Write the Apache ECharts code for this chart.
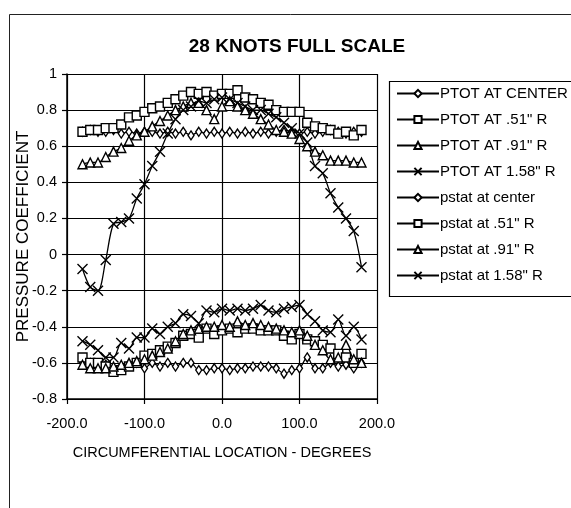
<!DOCTYPE html>
<html>
<head>
<meta charset="utf-8">
<script src="https://cdn.jsdelivr.net/npm/echarts@6/dist/echarts.min.js"></script>
<style>
  html, body { margin: 0; padding: 0; background: #fff; }
  #chart { width: 571px; height: 508px; }
</style>
</head>
<body>
<div id="chart"></div>
<script>
// circumferential location, degrees
var angles = [-180, -170, -160, -150, -140, -130, -120, -110, -100, -90, -80, -70, -60, -50, -40, -30, -20, -10,
    0, 10, 20, 30, 40, 50, 60, 70, 80, 90, 100, 110, 120, 130, 140, 150, 160, 170, 180];

// total pressure
var ptotCenter = [0.68, 0.69, 0.68, 0.68, 0.69, 0.67, 0.68, 0.67, 0.68, 0.68, 0.67, 0.68, 0.67, 0.68, 0.66, 0.68, 0.67, 0.68,
    0.67, 0.68, 0.67, 0.68, 0.67, 0.68, 0.67, 0.68, 0.69, 0.68, 0.67, 0.68, 0.67, 0.68, 0.69, 0.68, 0.67, 0.68, 0.68];
var ptot051 = [0.68, 0.69, 0.69, 0.70, 0.70, 0.72, 0.76, 0.77, 0.79, 0.81, 0.82, 0.84, 0.86, 0.88, 0.90, 0.89, 0.90, 0.88,
    0.89, 0.89, 0.91, 0.87, 0.86, 0.84, 0.83, 0.80, 0.79, 0.79, 0.79, 0.73, 0.71, 0.70, 0.69, 0.67, 0.68, 0.66, 0.69];
var ptot091 = [0.50, 0.51, 0.51, 0.54, 0.57, 0.59, 0.63, 0.66, 0.68, 0.71, 0.74, 0.77, 0.80, 0.82, 0.84, 0.84, 0.80, 0.75,
    0.82, 0.85, 0.82, 0.80, 0.78, 0.75, 0.72, 0.69, 0.68, 0.67, 0.64, 0.60, 0.57, 0.55, 0.52, 0.52, 0.52, 0.51, 0.51];
var ptot158 = [-0.08, -0.18, -0.20, -0.03, 0.17, 0.18, 0.20, 0.31, 0.39, 0.49, 0.57, 0.67, 0.75, 0.80, 0.82, 0.85, 0.84, 0.86,
    0.87, 0.86, 0.84, 0.82, 0.80, 0.80, 0.78, 0.76, 0.73, 0.70, 0.67, 0.62, 0.49, 0.45, 0.34, 0.26, 0.20, 0.13, -0.07];

// static pressure
var pstatCenter = [-0.60, -0.60, -0.62, -0.61, -0.63, -0.62, -0.61, -0.60, -0.63, -0.60, -0.62, -0.60, -0.62, -0.60, -0.60, -0.64, -0.64, -0.63,
    -0.63, -0.64, -0.63, -0.63, -0.62, -0.62, -0.62, -0.63, -0.66, -0.64, -0.63, -0.57, -0.63, -0.63, -0.60, -0.62, -0.61, -0.63, -0.60];
var pstat051 = [-0.57, -0.60, -0.60, -0.62, -0.65, -0.64, -0.62, -0.60, -0.56, -0.55, -0.53, -0.51, -0.49, -0.45, -0.44, -0.46, -0.41, -0.44,
    -0.42, -0.41, -0.43, -0.41, -0.41, -0.42, -0.42, -0.42, -0.45, -0.47, -0.44, -0.47, -0.48, -0.50, -0.52, -0.55, -0.57, -0.60, -0.55];
var pstat091 = [-0.61, -0.63, -0.63, -0.63, -0.62, -0.61, -0.60, -0.59, -0.58, -0.56, -0.54, -0.52, -0.48, -0.44, -0.42, -0.41, -0.40, -0.40,
    -0.39, -0.40, -0.37, -0.39, -0.38, -0.39, -0.40, -0.41, -0.42, -0.43, -0.42, -0.45, -0.50, -0.53, -0.58, -0.57, -0.50, -0.58, -0.60];
var pstat158 = [-0.48, -0.50, -0.53, -0.57, -0.57, -0.49, -0.52, -0.46, -0.46, -0.41, -0.44, -0.40, -0.38, -0.33, -0.34, -0.38, -0.31, -0.32,
    -0.30, -0.31, -0.30, -0.31, -0.30, -0.28, -0.31, -0.32, -0.30, -0.29, -0.28, -0.33, -0.37, -0.42, -0.43, -0.36, -0.45, -0.40, -0.47];

var seriesNames = ['PTOT AT CENTER', 'PTOT AT .51" R', 'PTOT AT .91" R', 'PTOT AT 1.58" R',
    'pstat at center', 'pstat at .51" R', 'pstat at .91" R', 'pstat at 1.58" R'];
var xTickLabels = ['-200.0', '-100.0', '0.0', '100.0', '200.0'];
var yTickLabels = ['-0.8', '-0.6', '-0.4', '-0.2', '0', '0.2', '0.4', '0.6', '0.8', '1'];

var FONT = 'Liberation Sans, Arial, sans-serif';
var crossPath = 'path://M0,0L10,10M10,0L0,10';

var markers = [
    { symbol: 'diamond', size: [6, 9] },
    { symbol: 'rect', size: 9 },
    { symbol: 'triangle', size: 9 },
    { symbol: crossPath, size: 10 }
];

var allValues = [ptotCenter, ptot051, ptot091, ptot158, pstatCenter, pstat051, pstat091, pstat158];

var makeSeries = function(i){
    var m = markers[i % 4];
    return {
        name: seriesNames[i],
        type: 'line',
        smooth: 0.3,
        symbol: m.symbol,
        symbolSize: m.size,
        showAllSymbol: true,
        data: angles.map(function(a, k){ return [a, allValues[i][k]]; }),
        lineStyle: { color: '#000', width: 1.3 },
        itemStyle: { color: '#fff', borderColor: '#000', borderWidth: 1.4 },
        emphasis: { disabled: true },
        z: 3
    };
};

var series = [];
for (var i = 0; i < allValues.length; i++) {
    series.push(makeSeries(i));
}

var myChart = echarts.init(document.getElementById('chart'), null, { renderer: 'canvas' });

var option = {
    backgroundColor: '#fff',
    animation: false,
    textStyle: { fontFamily: FONT, color: '#000' },
    title: {
        text: '28 KNOTS FULL SCALE',
        left: 292,
        textAlign: 'center',
        top: 32,
        textStyle: { fontFamily: FONT, fontSize: 19, fontWeight: 'bold', color: '#000' }
    },
    graphic: [
        // chart area border (runs off the right and bottom edge like the scan)
        { type: 'rect', left: 7, top: 12, shape: { width: 700, height: 700 },
          style: { fill: 'none', stroke: '#222', lineWidth: 1 }, silent: true },
        // legend box
        { type: 'rect', left: 387, top: 79, shape: { width: 300, height: 215 },
          style: { fill: 'none', stroke: '#000', lineWidth: 1.2 }, silent: true }
    ],
    legend: {
        orient: 'vertical',
        left: 396,
        top: 85,
        padding: 0,
        itemWidth: 42,
        itemHeight: 9,
        itemGap: 9,
        data: seriesNames,
        textStyle: { fontFamily: FONT, fontSize: 15, lineHeight: 17, color: '#000', padding: [0, 0, 0, -4] },
        selectedMode: false
    },
    grid: { left: 67, right: 194, top: 74, bottom: 109, containLabel: false },
    xAxis: {
        type: 'value',
        min: -200, max: 200, interval: 100,
        name: 'CIRCUMFERENTIAL LOCATION - DEGREES',
        nameLocation: 'middle',
        nameGap: 46,
        nameMoveOverlap: false,
        nameTextStyle: { fontFamily: FONT, fontSize: 14.5, color: '#000' },
        axisLine: { onZero: false, lineStyle: { color: '#000', width: 1.5 } },
        axisTick: { show: true, length: 5, lineStyle: { color: '#000', width: 1.2 } },
        axisLabel: {
            margin: 17, fontSize: 14.5, fontFamily: FONT, color: '#000',
            formatter: function(v){ return xTickLabels[Math.round((v + 200) / 100)]; }
        },
        splitLine: { show: true, lineStyle: { color: '#000', width: 1.2 } }
    },
    yAxis: {
        type: 'value',
        min: -0.8, max: 1, interval: 0.2,
        name: 'PRESSURE COEFFICIENT',
        nameLocation: 'middle',
        nameGap: 35,
        nameMoveOverlap: false,
        nameTextStyle: { fontFamily: FONT, fontSize: 17, color: '#000' },
        axisLine: { show: true, onZero: false, lineStyle: { color: '#000', width: 1.5 } },
        axisTick: { show: true, length: 5, lineStyle: { color: '#000', width: 1.2 } },
        axisLabel: {
            margin: 10, fontSize: 14.5, fontFamily: FONT, color: '#000',
            formatter: function(v){ return yTickLabels[Math.round((v + 0.8) / 0.2)]; }
        },
        splitLine: { show: true, lineStyle: { color: '#000', width: 1.2 } }
    },
    series: series
};

myChart.setOption(option);
</script>
</body>
</html>
